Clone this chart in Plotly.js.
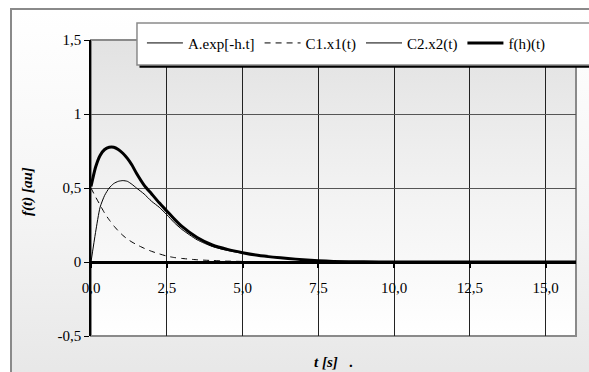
<!DOCTYPE html>
<html>
<head>
<meta charset="utf-8">
<script src="https://cdn.plot.ly/plotly-3.0.1.min.js"></script>
<style>
  html, body { margin: 0; padding: 0; width: 589px; height: 372px; overflow: hidden; background: #ffffff; }
  #frame { position: absolute; left: 10px; top: 8px; width: 620px; height: 420px;
           border-left: 2px solid #8a8a8a; border-top: 2px solid #8a8a8a;
           background: linear-gradient(to bottom, #ffffff 0%, #f4f4f4 50%, #e3e3e3 100%); }
  #plotbg { position: absolute; left: 91px; top: 40px; width: 485px; height: 296px;
            background: linear-gradient(to bottom, #e2e2e2 0%, #f2f2f2 50%, #ffffff 100%); }
  #chart { position: absolute; left: 0; top: 0; width: 589px; height: 372px; }
  #chart svg text { font-family: "Liberation Serif", serif !important; }
</style>
</head>
<body>
<div id="frame"></div>
<div id="plotbg"></div>
<div id="chart"></div>
<script>
// ---- data ----
const t      = [0, 0.15, 0.3, 0.45, 0.6, 0.75, 0.9, 1.05, 1.2, 1.35, 1.5, 1.75, 2.0, 2.25, 2.5, 2.75, 3.0, 3.5, 4.0, 4.5, 5.0, 5.5, 6.0, 6.5, 7.0, 7.5, 8.0, 9.0, 10.0, 11.0, 12.0, 13.0, 14.0, 15.0, 16.0];
const aExp   = [0, 0, 0, 0, 0, 0, 0, 0, 0, 0, 0, 0, 0, 0, 0, 0, 0, 0, 0, 0, 0, 0, 0, 0, 0, 0, 0, 0, 0, 0, 0, 0, 0, 0, 0];
const c1x1   = [0.5, 0.44, 0.385, 0.33, 0.285, 0.245, 0.21, 0.18, 0.155, 0.135, 0.118, 0.093, 0.072, 0.055, 0.04, 0.03, 0.024, 0.015, 0.01, 0.006, 0.004, 0.002, 0.001, 0, 0, 0, 0, 0, 0, 0, 0, 0, 0, 0, 0];
const c2x2   = [0, 0.2, 0.37, 0.45, 0.5, 0.53, 0.545, 0.55, 0.545, 0.525, 0.5, 0.46, 0.41, 0.37, 0.32, 0.265, 0.22, 0.15, 0.105, 0.078, 0.059, 0.043, 0.031, 0.023, 0.014, 0.008, 0.004, 0.001, 0, 0, 0, 0, 0, 0, 0];
const fht    = [0.51, 0.64, 0.72, 0.76, 0.775, 0.775, 0.76, 0.735, 0.7, 0.655, 0.6, 0.52, 0.46, 0.4, 0.345, 0.29, 0.24, 0.165, 0.115, 0.085, 0.063, 0.045, 0.033, 0.024, 0.015, 0.008, 0.004, 0.001, 0, 0, 0, 0, 0, 0, 0];
const seriesNames = ["A.exp[-h.t]", "C1.x1(t)", "C2.x2(t)", "f(h)(t)"];
const xTickVals = [0, 2.5, 5, 7.5, 10, 12.5, 15];
const xTickText = ["0,0", "2,5", "5,0", "7,5", "10,0", "12,5", "15,0"];
const yTickVals = [-0.5, 0, 0.5, 1, 1.5];
const yTickText = ["-0,5", "0", "0,5", "1", "1,5"];

const serif = "Liberation Serif";

const traces = [
  { x: t, y: aExp, name: seriesNames[0], mode: "lines", line: { color: "#000", width: 1 } },
  { x: t, y: c1x1, name: seriesNames[1], mode: "lines", line: { color: "#000", width: 1, dash: "6px,5px", shape: "spline", smoothing: 0.6 } },
  { x: t, y: c2x2, name: seriesNames[2], mode: "lines", line: { color: "#000", width: 1, shape: "spline", smoothing: 0.6 } },
  { x: t, y: fht,  name: seriesNames[3], mode: "lines", line: { color: "#000", width: 3, shape: "spline", smoothing: 0.6 } }
];

const layout = {
  width: 589, height: 372,
  margin: { l: 91, r: 13, t: 40, b: 36 },
  paper_bgcolor: "rgba(0,0,0,0)",
  plot_bgcolor: "rgba(0,0,0,0)",
  font: { family: serif, size: 15, color: "#000" },
  showlegend: true,
  legend: {
    orientation: "h", x: 0.105, y: 1.045, xanchor: "left", yanchor: "top",
    bgcolor: "rgba(0,0,0,0)", borderwidth: 0,
    font: { family: serif, size: 15, color: "#000" },
    itemwidth: 36
  },
  xaxis: {
    range: [0, 16], anchor: "free", position: 0.25,
    tickvals: xTickVals, ticktext: xTickText,
    ticks: "outside", ticklen: 5, tickwidth: 2, tickcolor: "#000",
    ticklabelstandoff: 7,
    tickfont: { family: serif, size: 15, color: "#000" },
    showgrid: true, gridcolor: "#222", gridwidth: 1,
    showline: false, zeroline: false, fixedrange: true
  },
  yaxis: {
    range: [-0.5, 1.5],
    tickvals: yTickVals, ticktext: yTickText,
    ticks: "outside", ticklen: 5, tickwidth: 1, tickcolor: "#000",
    tickfont: { family: serif, size: 15, color: "#000" },
    showgrid: true, gridcolor: "#555", gridwidth: 1,
    showline: true, linecolor: "#000", linewidth: 1.5,
    zeroline: true, zerolinecolor: "#000", zerolinewidth: 3,
    fixedrange: true
  },
  shapes: [
    { type: "rect", xref: "paper", yref: "paper", x0: 0, x1: 1, y0: 0, y1: 1,
      line: { color: "#8a8a8a", width: 2 }, layer: "below" },
    { type: "rect", xref: "paper", yref: "paper", x0: 0.1, x1: 1.2, y0: 0.9065, y1: 1.05,
      fillcolor: "#000", line: { width: 0 }, layer: "above" },
    { type: "rect", xref: "paper", yref: "paper", x0: 0.0948, x1: 1.2, y0: 0.9155, y1: 1.0574,
      fillcolor: "#fff", line: { color: "#8a8a8a", width: 1.5 }, layer: "above" }
  ],
  annotations: [
    { text: "<b><i>f(t) [au]</i></b>", xref: "paper", yref: "paper",
      x: -0.13, y: 0.49, textangle: -90, showarrow: false,
      xanchor: "center", yanchor: "middle", font: { family: serif, size: 15, color: "#000" } },
    { text: "<b><i>t [s]</i></b>   <b>.</b>", xref: "paper", yref: "paper",
      x: 0.5, y: -0.087, showarrow: false,
      xanchor: "center", yanchor: "middle", font: { family: serif, size: 15, color: "#000" } }
  ]
};

Plotly.newPlot("chart", traces, layout, { displayModeBar: false });
</script>
</body>
</html>
